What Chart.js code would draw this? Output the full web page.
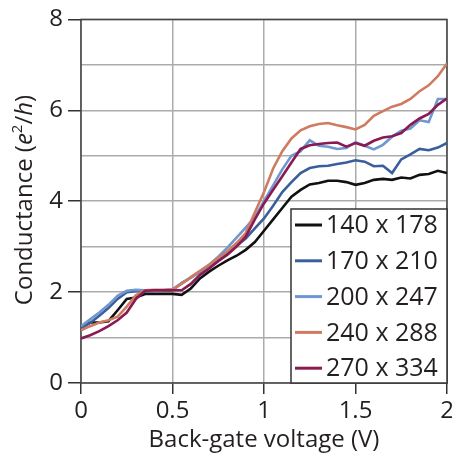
<!DOCTYPE html>
<html>
<head>
<meta charset="utf-8">
<script src="https://cdn.jsdelivr.net/npm/chart.js@4.4.0/dist/chart.umd.min.js"></script>
<style>
  html, body { margin: 0; padding: 0; background: #fff; }
  #wrap { width: 452px; height: 459px; }
</style>
</head>
<body>
<div id="wrap"><canvas id="cond" width="452" height="459"></canvas></div>
<script>
// --- DATA ---
const voltage = [0, 0.05, 0.1, 0.15, 0.2, 0.25, 0.3, 0.35, 0.4, 0.45,
                 0.5, 0.55, 0.6, 0.65, 0.7, 0.75, 0.8, 0.85, 0.9, 0.95,
                 1.0, 1.05, 1.1, 1.15, 1.2, 1.25, 1.3, 1.35, 1.4, 1.45,
                 1.5, 1.55, 1.6, 1.65, 1.7, 1.75, 1.8, 1.85, 1.9, 1.95, 2.0];

const g140 = [1.22, 1.33, 1.33, 1.36, 1.6, 1.85, 1.88, 1.96, 1.96, 1.96,
              1.96, 1.94, 2.08, 2.3, 2.45, 2.58, 2.7, 2.8, 2.93, 3.1,
              3.35, 3.6, 3.85, 4.1, 4.25, 4.37, 4.4, 4.45, 4.45, 4.42,
              4.36, 4.4, 4.47, 4.49, 4.47, 4.52, 4.5, 4.58, 4.6, 4.67, 4.62];
const g170 = [1.2, 1.32, 1.48, 1.65, 1.85, 2.0, 2.02, 2.02, 2.03, 2.03,
              2.04, 2.2, 2.32, 2.45, 2.58, 2.72, 2.86, 3.02, 3.18, 3.4,
              3.62, 3.9, 4.2, 4.42, 4.62, 4.73, 4.77, 4.78, 4.82, 4.85,
              4.9, 4.87, 4.77, 4.78, 4.62, 4.92, 5.03, 5.15, 5.12, 5.18, 5.28];
const g200 = [1.25, 1.4, 1.55, 1.72, 1.92, 2.03, 2.05, 2.04, 2.04, 2.04,
              2.06, 2.2, 2.32, 2.45, 2.6, 2.78, 2.98, 3.2, 3.42, 3.65,
              4.0, 4.35, 4.7, 5.0, 5.1, 5.34, 5.22, 5.2, 5.15, 5.17,
              5.3, 5.22, 5.14, 5.24, 5.42, 5.55, 5.6, 5.78, 5.74, 6.25, 6.25];
const g240 = [1.16, 1.25, 1.33, 1.38, 1.46, 1.68, 1.93, 2.04, 2.05, 2.05,
              2.06, 2.18, 2.33, 2.47, 2.6, 2.75, 2.9, 3.08, 3.3, 3.75,
              4.2, 4.72, 5.1, 5.38, 5.56, 5.65, 5.7, 5.72, 5.67, 5.63,
              5.58, 5.68, 5.88, 5.98, 6.08, 6.14, 6.25, 6.42, 6.55, 6.75, 7.03];
const g270 = [0.98, 1.05, 1.14, 1.25, 1.38, 1.55, 1.85, 2.03, 2.04, 2.04,
              2.04, 2.04, 2.18, 2.38, 2.52, 2.68, 2.82, 3.0, 3.22, 3.6,
              3.95, 4.25, 4.55, 4.85, 5.15, 5.23, 5.26, 5.28, 5.29, 5.2,
              5.28, 5.22, 5.33, 5.4, 5.43, 5.5, 5.68, 5.82, 5.92, 6.12, 6.26];

const seriesNames = ['140 x 178', '170 x 210', '200 x 247', '240 x 288', '270 x 334'];
const xTicks = [0, 0.5, 1, 1.5, 2];
const yTicks = [0, 2, 4, 6, 8];

const colors = ['#111111', '#3a5e9c', '#6f97d0', '#cf7b60', '#8a1a52'];
const FONT = '"Open Sans", "Noto Sans", sans-serif';
const INK = '#231f20';

function pts(ys) {
    return voltage.map((v, i) => ({ x: v, y: ys[i] }));
}

const allSeries = [g140, g170, g200, g240, g270];

// frame, legend box and axis titles
const decor = {
    id: 'decor',
    beforeDatasetsDraw(chart) {
        const a = chart.chartArea, c = chart.ctx;
        c.save();
        c.strokeStyle = '#444';
        c.lineWidth = 1.5;
        c.strokeRect(a.left, a.top, a.right - a.left, a.bottom - a.top);
        c.restore();
    },
    afterDraw(chart) {
        const c = chart.ctx;
        c.save();
        // legend
        const bx = 291, by = 209, bw = 156, bh = 174;
        c.fillStyle = '#fff';
        c.fillRect(bx, by, bw, bh);
        c.strokeStyle = '#333';
        c.lineWidth = 1.5;
        c.strokeRect(bx, by, bw, bh);
        c.font = '25px ' + FONT;
        c.textBaseline = 'middle';
        c.textAlign = 'left';
        seriesNames.forEach((name, i) => {
            const yy = 225 + i * 35.8;
            c.strokeStyle = colors[i];
            c.lineWidth = 3;
            c.beginPath();
            c.moveTo(295, yy);
            c.lineTo(322, yy);
            c.stroke();
            c.fillStyle = INK;
            c.fillText(name, 326, yy + 1);
        });

        // x title
        c.fillStyle = INK;
        c.font = '24px ' + FONT;
        c.textAlign = 'center';
        c.textBaseline = 'alphabetic';
        c.fillText('Back-gate voltage (V)', 264, 447);

        // y title with italics and superscript
        const parts = [
            { t: 'Conductance (', f: '24px ' + FONT, dy: 0 },
            { t: 'e', f: 'italic 24px ' + FONT, dy: 0 },
            { t: '2', f: '15px ' + FONT, dy: -10 },
            { t: '/', f: '24px ' + FONT, dy: 0 },
            { t: 'h', f: 'italic 24px ' + FONT, dy: 0 },
            { t: ')', f: '24px ' + FONT, dy: 0 }
        ];
        let total = 0;
        parts.forEach(p => { c.font = p.f; p.w = c.measureText(p.t).width; total += p.w; });
        c.translate(32, 200);
        c.rotate(-Math.PI / 2);
        c.textAlign = 'left';
        let px = -total / 2;
        parts.forEach(p => {
            c.font = p.f;
            c.fillText(p.t, px, p.dy);
            px += p.w;
        });
        c.restore();
    }
};

new Chart(document.getElementById('cond'), {
    type: 'line',
    data: {
        datasets: allSeries.map((ys, i) => ({
            label: seriesNames[i],
            data: pts(ys),
            borderColor: colors[i],
            borderWidth: 2.6,
            pointRadius: 0,
            tension: 0,
            fill: false,
            order: 5 - i // later sizes drawn on top
        }))
    },
    options: {
        responsive: false,
        animation: false,
        events: [],
        layout: { padding: { top: 16, right: 5, left: 0, bottom: 0 } },
        plugins: { legend: { display: false }, tooltip: { enabled: false } },
        scales: {
            x: {
                type: 'linear',
                min: 0, max: 2,
                afterBuildTicks: s => { s.ticks = xTicks.map(v => ({ value: v })); },
                afterFit: s => { s.height = 76; s.paddingLeft = 0; s.paddingRight = 0; },
                border: { display: false },
                grid: { color: '#ababab', lineWidth: 1.5, tickLength: 11, tickColor: '#333', tickWidth: 1.5 },
                ticks: {
                    color: INK, padding: 3, maxRotation: 0,
                    font: { family: FONT, size: 24 },
                    callback: v => String(v)
                }
            },
            y: {
                min: 0, max: 8,
                ticks: {
                    stepSize: 1, color: INK, padding: 5,
                    font: { family: FONT, size: 24 },
                    callback: v => (yTicks.includes(v) ? String(v) : '')
                },
                afterFit: s => { s.width = 81; },
                border: { display: false },
                grid: {
                    color: '#ababab', lineWidth: 1.5, tickLength: 13, tickWidth: 1.5,
                    tickColor: ctx => (yTicks.includes(ctx.tick.value) ? '#333' : 'rgba(0,0,0,0)')
                }
            }
        }
    },
    plugins: [decor]
});
</script>
</body>
</html>
